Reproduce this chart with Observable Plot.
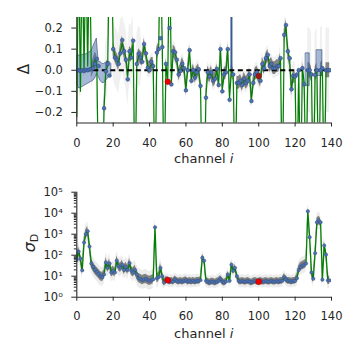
<!DOCTYPE html>
<html><head><meta charset="utf-8">
<script src="https://cdn.jsdelivr.net/npm/d3@7"></script>
<script src="https://cdn.jsdelivr.net/npm/@observablehq/plot@0.6"></script>
<style>
body{margin:0;background:#fff;}
#chart{width:360px;height:360px;overflow:hidden;}
#chart svg{display:block;}
</style></head><body><div id="chart"></div>
<script>
// ---- data ----
const channelCount = 140;
const xTicks = [0, 20, 40, 60, 80, 100, 120, 140];
const deltaTicks = [-0.2, -0.1, 0.0, 0.1, 0.2];
const sigmaTicks = [1, 10, 100, 1000, 10000, 100000];
const sigmaTickLabels = ["10⁰", "10¹", "10²", "10³", "10⁴", "10⁵"];
const highlighted = [50, 100];
const highlightColors = ["#ee0000", "#a01818"];

// Δ per channel (blue dots)
const delta = [
 0.000, 0.000,-0.003, 0.000,-0.004, 0.002, 0.000, 0.004, 0.006, 0.010,
 0.030, 0.054, 0.020,-0.400,-0.350,-0.180,-0.005, 0.030,-0.025, 0.400,
 0.100, 0.060, 0.050, 0.030, 0.080, 0.143, 0.090, 0.050,-0.043, 0.090,
 0.060, 0.140,-0.400, 0.030, 0.078, 0.060, 0.040, 0.124, 0.080, 0.011,
 0.000, 0.040, 0.020,-0.400, 0.084, 0.100, 0.152, 0.110,-0.400, 0.030,
-0.054, 0.200,-0.067, 0.090, 0.085, 0.050,-0.020,-0.003, 0.030, 0.010,
-0.095, 0.000, 0.095,-0.050, 0.000,-0.035,-0.010, 0.005,-0.074,-0.400,
-0.400,-0.130,-0.010,-0.030,-0.010,-0.050,-0.040, 0.006,-0.070, 0.100,
-0.100,-0.020,-0.010, 0.100,-0.140, 0.400,-0.020,-0.400,-0.060,-0.060,
-0.050,-0.070,-0.040,-0.060,-0.050,-0.020,-0.146,-0.060,-0.020,-0.010,
-0.027,-0.050, 0.030, 0.010, 0.057, 0.073, 0.020, 0.030, 0.010, 0.010,
 0.020, 0.020, 0.057,-0.400, 0.168, 0.214, 0.090, 0.057,-0.090,-0.026,
-0.030,-0.020, 0.000,-0.400, 0.010,-0.067,-0.400, 0.000, 0.000,-0.020,
-0.400,-0.022, 0.000,-0.400, 0.000, 0.010,-0.400, 0.000, 0.000, 0.000
];

// Δ model per channel (green line)
const deltaModel = [
-0.22, 0.60,-0.10, 0.60, 0.00, 0.60, 0.02, 0.60, 0.00, 0.02,
 0.05, 0.04,-0.60,-0.60,-0.60,-0.18, 0.00, 0.02, 0.60, 0.60,
 0.10, 0.07, 0.05, 0.03, 0.09, 0.13, 0.09, 0.06,-0.03, 0.08,
 0.07, 0.13,-0.60, 0.03, 0.07, 0.06, 0.05, 0.12, 0.08, 0.02,
 0.01, 0.03, 0.03,-0.60, 0.08, 0.10, 0.60, 0.11,-0.60, 0.03,
-0.05, 0.60,-0.06, 0.09, 0.08, 0.05,-0.02, 0.00, 0.03, 0.01,
-0.09, 0.00, 0.09,-0.04, 0.00,-0.03,-0.01, 0.00,-0.07,-0.60,
-0.60,-0.12,-0.01,-0.03,-0.01,-0.05,-0.04, 0.00,-0.06, 0.10,
-0.09,-0.02,-0.01, 0.10,-0.13, 0.00,-0.02,-0.60,-0.06,-0.06,
-0.05,-0.07,-0.04,-0.06,-0.05,-0.02,-0.14,-0.06,-0.02,-0.01,
-0.03,-0.05, 0.03, 0.01, 0.05, 0.07, 0.02, 0.03, 0.01, 0.01,
 0.02, 0.02, 0.05,-0.60, 0.16, 0.21, 0.09, 0.05,-0.09,-0.03,
-0.03,-0.60, 0.00,-0.60, 0.01,-0.06,-0.60, 0.00, 0.00,-0.02,
-0.60,-0.02, 0.00,-0.60, 0.00, 0.01,-0.60, 0.00, 0.00, 0.00
];

// blue uncertainty band segments: [segment, channel, low, high]
const deltaBand = [
 ["a",0,-0.06,0.07],["a",1,-0.085,0.07],["a",2,-0.085,0.07],["a",3,-0.08,0.072],
 ["a",4,-0.075,0.075],["a",5,-0.07,0.075],["a",6,-0.065,0.08],["a",7,-0.06,0.085],
 ["a",8,-0.055,0.09],["a",9,-0.05,0.11],["a",10,-0.04,0.13],["a",11,-0.02,0.15],
 ["a",12,-0.03,0.04],["a",13,-0.05,0.04],["a",14,-0.06,0.03],["a",15,-0.06,0.03],
 ["a",16,-0.05,0.035],["a",17,-0.04,0.04],["a",18,-0.03,0.04],["a",19,-0.02,0.03],
 ["c",126,-0.075,0.08],["c",127,-0.075,0.08],["c",128,-0.075,0.08],
 ["d",132,-0.027,0.095],["d",133,-0.027,0.095],["d",134,-0.027,0.095],["d",135,-0.027,0.095]
];
// narrow band spike: [channel, low, high]
const deltaBandSpike = [[85, -0.01, 0.6]];

// σ_D per channel (blue dots + green line)
const sigma = [
 60, 150, 70, 19, 400, 1000, 1400, 260, 40, 28,
 20, 16, 13, 10, 9, 12, 45, 25, 40, 15,
 18, 15, 55, 30, 25, 35, 20, 28, 20, 42,
 18, 15, 20, 12, 8, 7.5, 6.5, 7, 7.5, 6.5,
 6, 6.5, 7, 2150, 8, 9, 25, 10, 5, 6.5,
 6.5, 5.5, 6, 5.5, 7, 6, 5.5, 6, 5.5, 6,
 6.5, 5.5, 6, 5.5, 6, 5.5, 6, 6, 6.5, 75,
 55, 6, 5.5, 5, 5.5, 5.5, 5, 5.5, 6, 7.5,
 5.5, 5, 5.5, 12, 6, 35, 18, 25, 10, 6,
 5.5, 6, 5.5, 5.5, 6, 5.5, 5, 5.5, 6, 5.5,
 5.5, 6, 5.5, 5.5, 6, 5.5, 5.5, 6, 5.5, 5.5,
 6, 5.5, 6, 6, 9, 7, 6, 6, 5.5, 6,
 6, 8, 20, 28, 32, 35, 40, 12500, 720, 15,
 7.5, 125, 3700, 4500, 3700, 6.8, 290, 107, 6.3, 6.3
];

// grey sample envelopes: [from, to, inner half-width, outer half-width]
const deltaSpread = [[0,12,0.035,0.08],[13,35,0.032,0.14],[36,111,0.03,0.05],[112,125,0.032,0.07],[126,139,0.035,0.2]];
// in decades
const sigmaSpread = [[0,47,0.22,0.45],[48,120,0.16,0.3],[121,139,0.2,0.4]];

// ---- tables ----
const channels = d3.range(channelCount);
const seg = (segs, i) => segs.find(s => i >= s[0] && i <= s[1]);
const topRows = channels.map(i => {
  const s = seg(deltaSpread, i), m = deltaModel[i];
  return {i, d: delta[i], m, iLo: m - s[2], iHi: m + s[2], oLo: m - s[3], oHi: m + s[3]};
});
const botRows = channels.map(i => {
  const s = seg(sigmaSpread, i), v = sigma[i];
  return {i, v, iLo: v / 10 ** s[2], iHi: v * 10 ** s[2], oLo: v / 10 ** s[3], oHi: v * 10 ** s[3]};
});
const bandRows = deltaBand.map(([k, i, lo, hi]) => ({k, i, lo, hi}));
const spikeRows = deltaBandSpike.map(([i, lo, hi]) => ({i, lo, hi}));
const topRed = highlighted.map((i, j) => ({i, d: delta[i], c: highlightColors[j]}));
const botRed = highlighted.map((i, j) => ({i, v: sigma[i], c: highlightColors[0]}));

const ink = "#262626";
const font = "DejaVu Sans, sans-serif";
const common = {width: 360, height: 180, marginLeft: 76.3, marginRight: 29,
  style: {fontFamily: font, fontSize: "11.5px", color: ink, background: "white"}};

const topPlot = Plot.plot({
  ...common, marginTop: 17, marginBottom: 57.5,
  x: {domain: [0, 140]},
  y: {domain: [-0.25, 0.25]},
  marks: [
    Plot.areaY(topRows, {x: "i", y1: "oLo", y2: "oHi", fill: "#8a8a8a", fillOpacity: 0.13, clip: true}),
    Plot.areaY(topRows, {x: "i", y1: "iLo", y2: "iHi", fill: "#151515", fillOpacity: 0.5, clip: true}),
    Plot.areaY(bandRows, {x: "i", y1: "lo", y2: "hi", z: "k", fill: "#4c72b0", fillOpacity: 0.5, stroke: "#2c4470", strokeWidth: 0.6, clip: true}),
    Plot.ruleX(spikeRows, {x: "i", y1: "lo", y2: "hi", stroke: "#3a5a90", strokeWidth: 2, clip: true}),
    Plot.lineY(topRows, {x: "i", y: "m", stroke: "green", strokeWidth: 1.2, clip: true}),
    Plot.ruleY([0], {x1: 0, x2: 140, stroke: "black", strokeWidth: 2.2, strokeDasharray: "5,3.5"}),
    Plot.dot(topRows, {x: "i", y: "d", r: 1.9, fill: "#4c72b0", stroke: "#2a4676", strokeWidth: 0.5, clip: true}),
    Plot.dot(topRed, {x: "i", y: "d", r: 2.8, fill: "c", stroke: "#800", strokeWidth: 0.4, clip: true}),
    Plot.ruleX([0], {stroke: ink, strokeWidth: 1.1}),
    Plot.ruleY([-0.25], {stroke: ink, strokeWidth: 1.1}),
    Plot.axisX({ticks: xTicks, tickSize: 4, tickPadding: 12, label: null, stroke: ink}),
    Plot.axisY({ticks: deltaTicks, tickSize: 5, tickPadding: 9, label: null,
      tickFormat: d => d.toFixed(1).replace("-", "\u2212")})
  ]
});

const minorTicks = [];
for (let e = 0; e < 5; e++) for (let k = 2; k <= 9; k++) minorTicks.push(k * 10 ** e);

const botPlot = Plot.plot({
  ...common, marginTop: 11.7, marginBottom: 63.3,
  x: {domain: [0, 140]},
  y: {type: "log", domain: [1, 1e5]},
  marks: [
    Plot.areaY(botRows, {x: "i", y1: "oLo", y2: "oHi", fill: "#8a8a8a", fillOpacity: 0.16, clip: true}),
    Plot.areaY(botRows, {x: "i", y1: "iLo", y2: "iHi", fill: "#151515", fillOpacity: 0.5, clip: true}),
    Plot.lineY(botRows, {x: "i", y: "v", stroke: "green", strokeWidth: 1.3, clip: true}),
    Plot.dot(botRows, {x: "i", y: "v", r: 1.7, fill: "#4c72b0", stroke: "#2a4676", strokeWidth: 0.4, clip: true}),
    Plot.dot(botRed, {x: "i", y: "v", r: 3, fill: "c", stroke: "#800", strokeWidth: 0.4, clip: true}),
    Plot.ruleX([0], {stroke: ink, strokeWidth: 1.1}),
    Plot.ruleY([1], {stroke: ink, strokeWidth: 1.1}),
    Plot.axisX({ticks: xTicks, tickSize: 4, tickPadding: 11, label: null}),
    Plot.axisY({ticks: minorTicks, tickSize: 2.5, tickFormat: () => "", label: null}),
    Plot.axisY({ticks: sigmaTicks, tickSize: 5, tickPadding: 9, label: null,
      tickFormat: d => sigmaTickLabels[sigmaTicks.indexOf(d)]})
  ]
});

function xLabel(svg, y) {
  const t = d3.select(svg).append("text").attr("x", 203.7).attr("y", y)
    .attr("text-anchor", "middle").attr("font-size", 13).attr("font-family", font).attr("fill", ink);
  t.append("tspan").text("channel ");
  t.append("tspan").attr("font-style", "italic").text("i");
}
xLabel(topPlot, 163.3);
xLabel(botPlot, 158.3);

d3.select(topPlot).append("text").attr("transform", "translate(28.5,69) rotate(-90)")
  .attr("text-anchor", "middle").attr("font-size", 15).attr("font-family", font).attr("fill", ink).text("Δ");
const sl = d3.select(botPlot).append("text").attr("transform", "translate(35,63) rotate(-90)")
  .attr("text-anchor", "middle").attr("font-size", 16).attr("font-family", font).attr("fill", ink);
sl.append("tspan").attr("font-style", "italic").text("σ");
sl.append("tspan").attr("font-size", 11).attr("dy", 3).text("D");

document.getElementById("chart").append(topPlot, botPlot);
</script></body></html>
